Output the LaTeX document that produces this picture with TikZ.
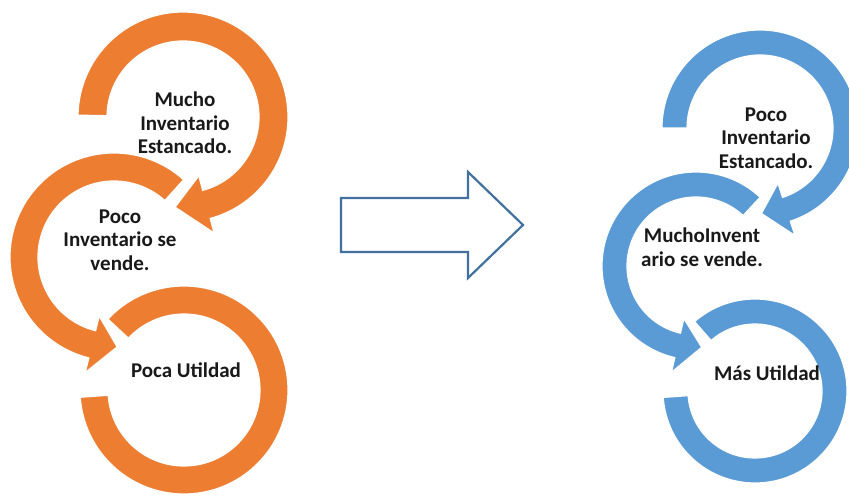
\documentclass[tikz,border=0pt]{standalone}
\usepackage{fontspec}
\setmainfont{Carlito}
\usetikzlibrary{calc}
\definecolor{orng}{HTML}{ED7D31}
\definecolor{blu}{HTML}{5B9BD5}
\definecolor{arrline}{HTML}{41719C}
\tikzset{
  lbl/.style={font=\bfseries\fontsize{21}{23.5}\selectfont, align=center, text=black!90, inner sep=0pt},
  ring/.style={draw=white, line width=1.2pt, line join=miter},
  blockarrow/.style={draw=arrline, line width=2.2pt, fill=white, line join=miter},
}
\begin{document}
\begin{tikzpicture}[x=1pt,y=1pt]
\useasboundingbox (0,0) rectangle (849,499);
\fill[white] (0,0) rectangle (849,499);
\clip (0,0) rectangle (849,499);

% ---------- orange (left) ----------
\begin{scope}[shift={(184,109)}]
\filldraw[ring, fill=orng] (137:104) arc[start angle=137, end angle=-176, radius=104]
  -- (-176:76) arc[start angle=-176, end angle=137, radius=76] -- cycle;
\end{scope}
\begin{scope}[shift={(114,242)}]
\filldraw[ring, fill=orng] (48:104) arc[start angle=48, end angle=256, radius=104]
  -- (256:119) -- (272:90) -- (256:61) -- (256:76)
  arc[start angle=256, end angle=48, radius=76] -- cycle;
\end{scope}
\begin{scope}[shift={(183,382)}]
\filldraw[ring, fill=orng] (179:105) arc[start angle=179, end angle=-75, radius=105]
  -- (-75:120) -- (-95:90.5) -- (-75:61) -- (-75:76)
  arc[start angle=-75, end angle=179, radius=76] -- cycle;
\end{scope}

% ---------- blue (right) ----------
\begin{scope}[shift={(755,108)}]
\filldraw[ring, fill=blu] (131:92) arc[start angle=131, end angle=-176, radius=92]
  -- (-176:67) arc[start angle=-176, end angle=131, radius=67] -- cycle;
\end{scope}
\begin{scope}[shift={(696,233)}]
\filldraw[ring, fill=blu] (47:94) arc[start angle=47, end angle=257, radius=94]
  -- (257:109) -- (274:81.5) -- (257:54) -- (257:69)
  arc[start angle=257, end angle=47, radius=69] -- cycle;
\end{scope}
\begin{scope}[shift={(760,371)}]
\filldraw[ring, fill=blu] (180:98) arc[start angle=180, end angle=-72, radius=98]
  -- (-72:113) -- (-89:85.5) -- (-72:58) -- (-72:73)
  arc[start angle=-72, end angle=180, radius=73] -- cycle;
\end{scope}

% ---------- texts ----------
\node[lbl] (o1) at (185,376) {Mucho\\Inventario\\Estancado.};
\node[lbl] (o2) at (120,259) {Poco\\Inventario se\\vende.};
\node[lbl] (o3) at (186,129) {Poca Utildad};
\node[lbl] (b1) at (766,361) {Poco\\Inventario\\Estancado.};
\node[lbl] (b2) at (702,252) {MuchoInvent\\ario se vende.};
\node[lbl] (b3) at (767,126) {Más Utildad};

% ---------- block arrow ----------
\draw[blockarrow] (341,301) -- (468,301) -- (468,327) -- (523,274)
  -- (468,221) -- (468,247) -- (341,247) -- cycle;
\end{tikzpicture}
\end{document}
